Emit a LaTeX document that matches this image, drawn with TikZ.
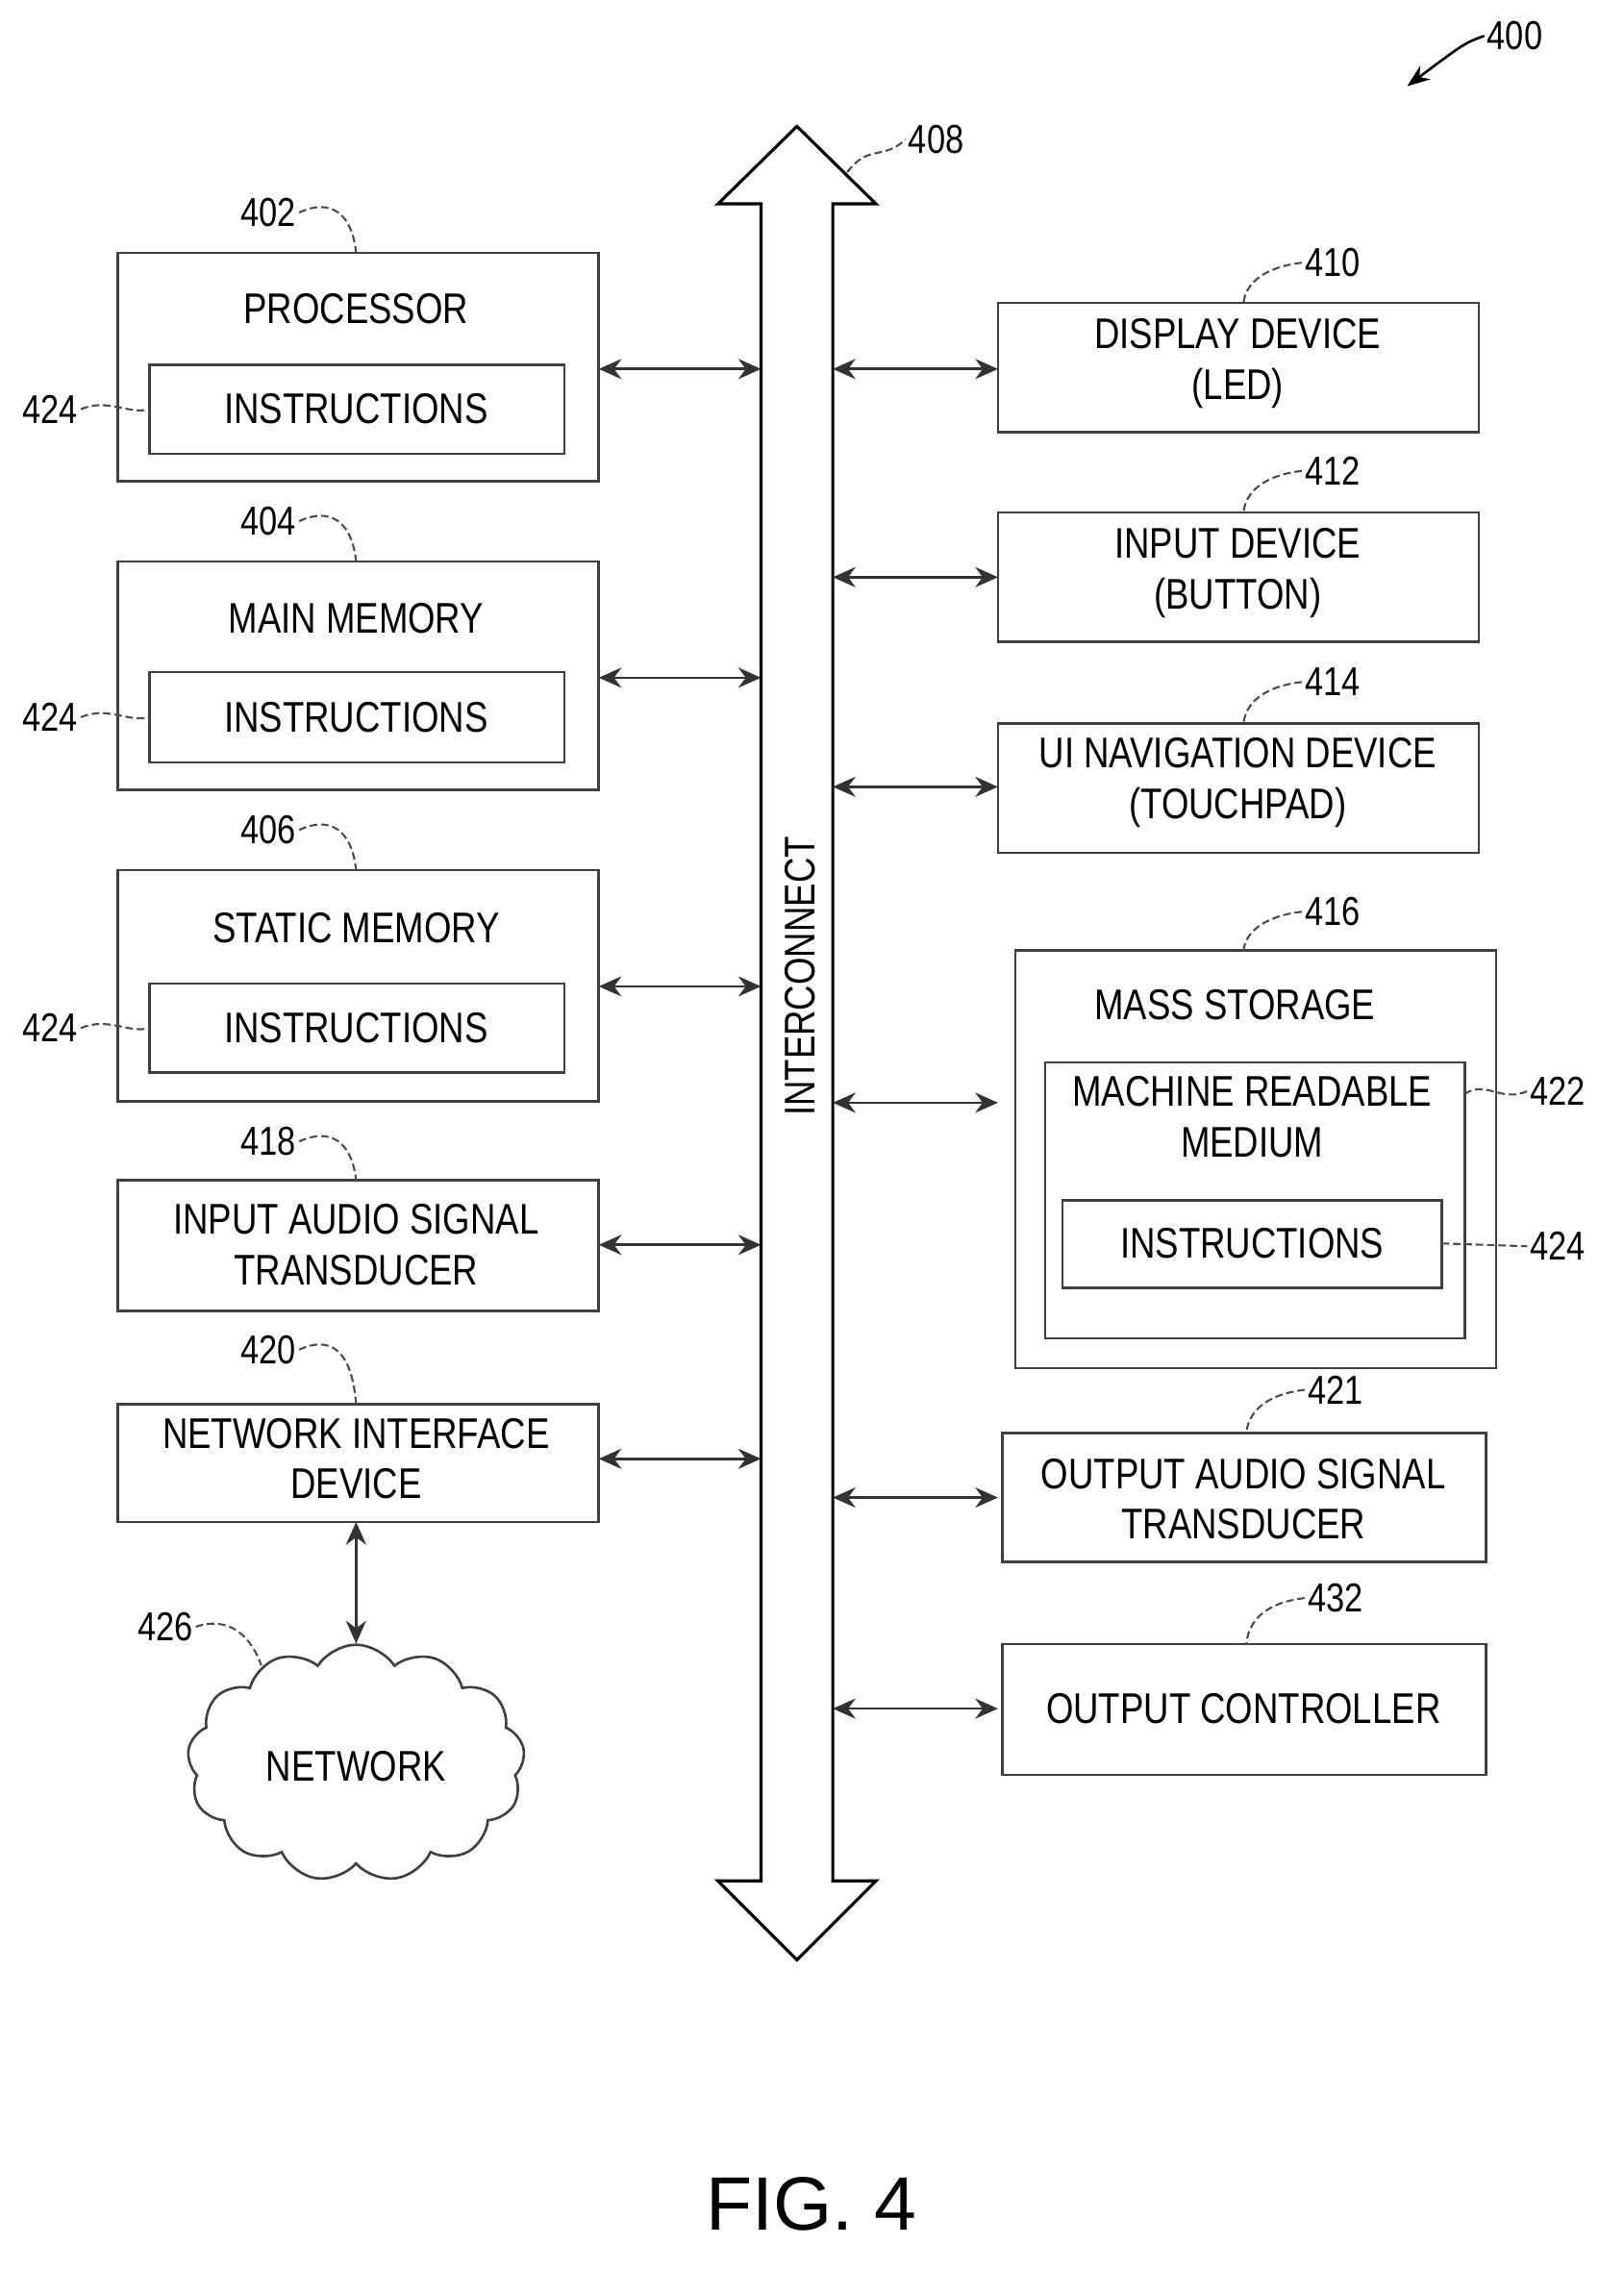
\documentclass[tikz,border=0pt]{standalone}
\usepackage{fontspec}
\setmainfont{Liberation Sans}[FakeStretch=0.82]
\usetikzlibrary{shapes.symbols,arrows.meta,decorations.pathmorphing}
\begin{document}
\begin{tikzpicture}[x=0.02cm,y=-0.02cm,
 box/.style={draw=black!75,line width=1pt},
 t/.style={font=\fontsize{17}{20}\selectfont,align=center,inner sep=0},
 lab/.style={font=\fontsize{16}{19}\selectfont,inner sep=1pt},
 lead/.style={draw=black!70,line width=0.8pt,dash pattern=on 3pt off 1.5pt},
 squig/.style={draw=black!70,line width=0.8pt,dash pattern=on 3pt off 1.5pt},
 biarr/.style={draw=black!80,line width=1pt,{Stealth[length=9pt,width=8pt]}-{Stealth[length=9pt,width=8pt]}}]
\useasboundingbox (0,0) rectangle (1131,1581);
% 400
\node[lab] (l400) at (1055,25) {400};
\draw[line width=1pt,-{Stealth[length=9pt]}] (l400.west) .. controls (1020,30) .. (980,60);
% bus
\draw[line width=1.2pt,fill=white] (555,88) -- (610,142) -- (580,142) -- (580,1310) -- (610,1310) -- (555,1365) -- (500,1310) -- (530,1310) -- (530,142) -- (500,142) -- cycle;
\node[t,rotate=90] (ic) at (557,680) {INTERCONNECT};
\node[lab] (l408) at (652,97) {408};
\draw[squig] (590,120) .. controls (605,100) and (615,112) .. (l408.west);
% left boxes
\foreach \ya/\yb in {176/335,391/550,606/767}{
 \draw[box] (82,\ya) rectangle (417,\yb);
}
\node[t] (p) at (248,215) {PROCESSOR};
\node[t] (mm) at (248,431) {MAIN MEMORY};
\node[t] (sm) at (248,646) {STATIC MEMORY};
\foreach \ya/\yb/\n in {254/316/i1,468/531/i2,685/747/i3}{
 \draw[box] (104,\ya) rectangle (393,\yb);
 \node[t] (\n) at (248,{(\ya+\yb)/2}) {INSTRUCTIONS};
 \node[lab] (\n l) at (35,{(\ya+\yb)/2}) {424};
 \draw[lead] (\n l.east) .. controls (75,{(\ya+\yb)/2-8}) and (90,{(\ya+\yb)/2+4}) .. (104,{(\ya+\yb)/2});
}
\draw[box] (82,822) rectangle (417,913);
\node[t] (ia) at (248,867) {INPUT AUDIO SIGNAL\\TRANSDUCER};
\draw[box] (82,978) rectangle (417,1060);
\node[t] (ni) at (248,1016) {NETWORK INTERFACE\\DEVICE};
\foreach \n/\y/\ty in {402/148/176,404/363/391,406/578/606,418/795/822,420/940/978}{
 \node[lab] (l\n) at (187,\y) {\n};
 \draw[squig] (l\n.east) .. controls (230,{\y-10}) and (245,{\y}) .. (248,{\ty});
}
\foreach \y in {257,472,687,867,1016}{
 \draw[biarr] (417,\y) -- (530,\y);
}
\foreach \y in {257,402,548,768,1043,1190}{
 \draw[biarr] (580,\y) -- (695,\y);
}
% right boxes
\draw[box] (695,211) rectangle (1030,301);
\node[t] (dd) at (862,253) {DISPLAY DEVICE\\(LED)};
\draw[box] (695,357) rectangle (1030,447);
\node[t] (id) at (862,399) {INPUT DEVICE\\(BUTTON)};
\draw[box] (695,504) rectangle (1030,594);
\node[t] (ui) at (862,545) {UI NAVIGATION DEVICE\\(TOUCHPAD)};
\draw[box] (707,662) rectangle (1042,953);
\node[t] (ms) at (860,700) {MASS STORAGE};
\draw[box] (728,740) rectangle (1020,932);
\node[t] (mr) at (872,778) {MACHINE READABLE\\MEDIUM};
\draw[box] (740,836) rectangle (1004,897);
\node[t] (i4) at (872,866) {INSTRUCTIONS};
\draw[box] (698,998) rectangle (1035,1088);
\node[t] (oa) at (866,1044) {OUTPUT AUDIO SIGNAL\\TRANSDUCER};
\draw[box] (698,1145) rectangle (1035,1236);
\node[t] (oc) at (866,1190) {OUTPUT CONTROLLER};
\foreach \n/\x/\y/\ty in {410/928/183/211,412/928/328/357,414/928/475/504,416/928/635/662,421/930/968/998,432/930/1113/1145}{
 \node[lab] (l\n) at (\x,\y) {\n};
 \draw[squig] (l\n.west) .. controls ({\x-40},{\y+2}) and ({\x-60},{\y+10}) .. ({\x-62},{\ty});
}
\node[lab] (l422) at (1085,760) {422};
\draw[squig] (1020,762) .. controls (1035,752) and (1045,768) .. (l422.west);
\node[lab] (l424) at (1085,868) {424};
\draw[squig] (1004,866) -- (l424.west);
% network
\node[cloud,draw=black!75,line width=1pt,cloud puffs=13,cloud puff arc=115,aspect=1.4,inner sep=0,minimum width=4.7cm,minimum height=3.3cm] (net) at (248,1228) {};
\node[t] at (248,1230) {NETWORK};
\draw[biarr] (248,1060) -- (net.north);
\node[lab] (l426) at (115,1133) {426};
\draw[squig] (l426.east) .. controls (160,1125) and (175,1140) .. (182,1160);
\node[font=\fontsize{30}{36}\selectfont\setmainfont{Liberation Sans}] (fig) at (565,1535) {FIG. 4};
\end{tikzpicture}
\end{document}
